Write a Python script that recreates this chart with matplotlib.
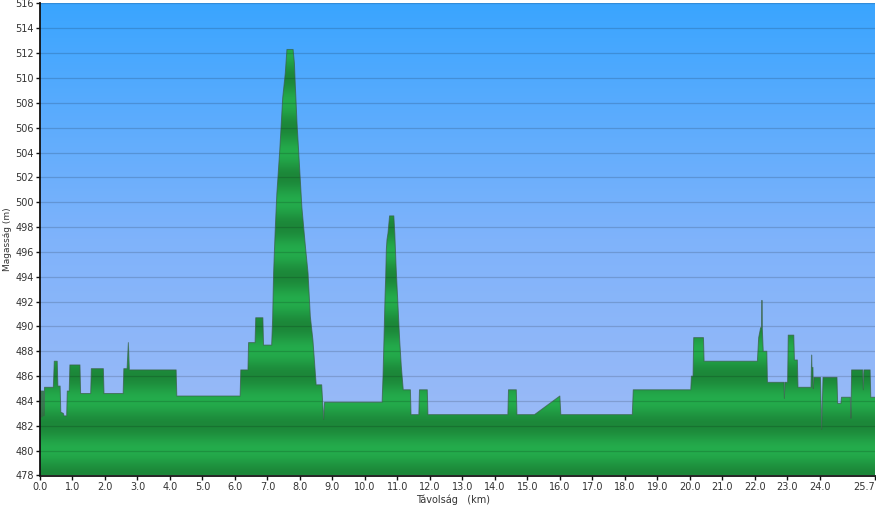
import numpy as np
import matplotlib
matplotlib.use("Agg")
import matplotlib.pyplot as plt
from matplotlib.colors import LinearSegmentedColormap
from matplotlib.patches import Polygon

# ── data: elevation profile ────────────────────────────────────────────────────
dist_km = [0.00, 0.05, 0.06, 0.07, 0.11, 0.12, 0.14, 0.41, 0.44, 0.53, 0.55, 0.62,
           0.64, 0.72, 0.74, 0.82, 0.84, 0.90, 0.92, 1.23, 1.25, 1.56, 1.58, 1.95,
           1.97, 2.56, 2.58, 2.68, 2.72, 2.75, 4.19, 4.21, 6.16, 6.18, 6.40, 6.42,
           6.62, 6.64, 6.86, 6.88, 7.13, 7.16, 7.19, 7.24, 7.29, 7.38, 7.42, 7.47,
           7.55, 7.60, 7.79, 7.83, 7.86, 7.91, 7.99, 8.06, 8.17, 8.25, 8.32, 8.40,
           8.44, 8.50, 8.67, 8.73, 8.76, 10.53, 10.56, 10.58, 10.60, 10.62, 10.64,
           10.66, 10.68, 10.71, 10.76, 10.89, 10.92, 10.96, 11.01, 11.07, 11.12,
           11.18, 11.40, 11.42, 11.66, 11.68, 11.92, 11.94, 14.40, 14.42, 14.66,
           14.68, 15.22, 16.00, 16.03, 18.23, 18.26, 20.03, 20.05, 20.10, 20.12,
           20.42, 20.44, 22.08, 22.12, 22.18, 22.21, 22.22, 22.23, 22.26, 22.37,
           22.39, 22.90, 22.91, 22.93, 23.01, 23.03, 23.20, 23.22, 23.31, 23.33,
           23.73, 23.75, 23.76, 23.79, 23.80, 23.82, 24.02, 24.06, 24.10, 24.53,
           24.55, 24.65, 24.67, 24.94, 24.96, 24.98, 25.32, 25.34, 25.36, 25.55,
           25.57, 25.70]
elev_m = [484.8, 484.8, 482.7, 484.8, 484.8, 482.8, 485.1, 485.1, 487.2, 487.2, 485.2, 485.2,
          483.1, 483.0, 482.8, 482.8, 484.8, 484.8, 486.9, 486.9, 484.6, 484.6, 486.6, 486.6,
          484.6, 484.6, 486.6, 486.6, 488.7, 486.5, 486.5, 484.4, 484.4, 486.5, 486.5, 488.7,
          488.7, 490.7, 490.7, 488.5, 488.5, 490.6, 494.3, 497.8, 500.7, 504.2, 506.1, 508.4,
          510.4, 512.3, 512.3, 511.2, 509.3, 506.4, 502.8, 499.6, 496.4, 494.3, 490.8, 488.9,
          487.5, 485.3, 485.3, 482.5, 483.9, 483.9, 486.2, 488.1, 490.3, 492.4, 494.0,
          496.2, 497.0, 497.5, 498.9, 498.9, 497.5, 494.8, 492.1, 488.9, 486.8,
          484.9, 484.9, 482.9, 482.9, 484.9, 484.9, 482.9, 482.9, 484.9, 484.9,
          482.9, 482.9, 484.4, 482.9, 482.9, 484.9, 484.9, 486.0, 486.0, 489.1,
          489.1, 487.2, 487.2, 489.1, 489.9, 489.9, 492.1, 489.9, 488.0, 488.0,
          485.5, 485.5, 484.2, 485.5, 485.5, 489.3, 489.3, 487.3, 487.3, 485.1,
          485.1, 487.7, 486.7, 486.7, 485.0, 485.9, 485.9, 481.7, 485.9, 485.9,
          483.8, 483.8, 484.3, 484.3, 482.6, 486.5, 486.5, 484.9, 486.5, 486.5,
          484.3, 484.3]

x_ticks = [float(v) for v in range(0, 25)] + [25.7]
y_ticks = list(range(478, 517, 2))
X_MAX, Y_MIN, Y_MAX = 25.7, 478, 516

# ── figure ─────────────────────────────────────────────────────────────────────
fig = plt.figure(figsize=(8.76, 5.05), dpi=100)
ax = fig.add_axes([40 / 876, 29.5 / 505, 835 / 876, 472 / 505])
ax.set_xlim(0, X_MAX)
ax.set_ylim(Y_MIN, Y_MAX)

# sky gradient background
sky = LinearSegmentedColormap.from_list("sky", ["#a2bcf6", "#7fb3fb", "#3aa5ff"])
ax.imshow(np.linspace(0, 1, 256).reshape(-1, 1), extent=[0, X_MAX, Y_MIN, Y_MAX],
          origin="lower", aspect="auto", cmap=sky, zorder=0)

# banded green fill, clipped to the profile
yy = np.linspace(Y_MIN, Y_MAX, 800)
t = (1 - np.cos(2 * np.pi * (yy - 482) / 4)) / 2
dark = np.array([28, 135, 57]) / 255
light = np.array([36, 172, 76]) / 255
rgb = dark[None, :] + t[:, None] * (light - dark)[None, :]
img = ax.imshow(rgb[:, None, :], extent=[0, X_MAX, Y_MIN, Y_MAX],
                origin="lower", aspect="auto", zorder=1)
poly = Polygon(list(zip(dist_km, elev_m)) + [(X_MAX, Y_MIN), (0, Y_MIN)],
               closed=True, transform=ax.transData, facecolor="none", edgecolor="none")
ax.add_patch(poly)
img.set_clip_path(poly)

# horizontal grid lines over everything
for yv in y_ticks[1:]:
    ax.axhline(yv, color="#000000", alpha=0.15, lw=0.9, zorder=2)

ax.plot(dist_km, elev_m, color="#3a5f45", lw=0.7, alpha=0.7, zorder=3)

# ── axes styling ───────────────────────────────────────────────────────────────
for side in ("top", "right"):
    ax.spines[side].set_visible(False)
for side in ("left", "bottom"):
    ax.spines[side].set_linewidth(1.3)
    ax.spines[side].set_color("#111111")
    ax.spines[side].set_zorder(5)

ax.set_xticks(x_ticks)
ax.set_xticklabels([f"{v:.1f}" for v in x_ticks])
ax.get_xticklabels()[-1].set_horizontalalignment("right")
ax.set_yticks(y_ticks)
ax.set_yticklabels([str(v) for v in y_ticks])
ax.tick_params(direction="out", length=3, width=1, labelsize=7,
               labelcolor="#333333", color="#111111", pad=1.5)

ax.set_xlabel("Távolság   (km)", fontsize=7, color="#333333")
ax.xaxis.set_label_coords(0.495, -0.04)
ax.set_ylabel("Magasság (m)", fontsize=6.5, color="#333333")
ax.yaxis.set_label_coords(-0.034, 0.5)

fig.savefig("out.png", dpi=100)
